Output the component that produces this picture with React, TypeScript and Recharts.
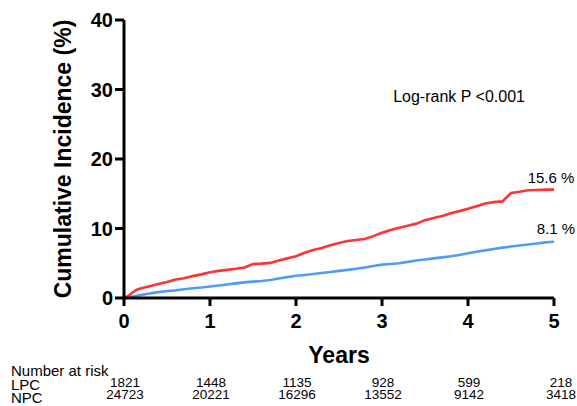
import { FC } from 'react';
import { LineChart, Line, XAxis, YAxis, Label, ReferenceDot } from 'recharts';

// years shown on the axis and the number-at-risk table
const YEARS = [0, 1, 2, 3, 4, 5];
const LPC_AT_RISK = [1821, 1448, 1135, 928, 599, 218];
const NPC_AT_RISK = [24723, 20221, 16296, 13552, 9142, 3418];

// cumulative incidence (%)
const LPC_T = [
  0, 0.05, 0.1, 0.15, 0.2, 0.3, 0.4, 0.5, 0.6, 0.7, 0.8, 0.9, 1.0, 1.1, 1.2, 1.3, 1.4, 1.5,
  1.6, 1.7, 1.8, 1.9, 2.0, 2.1, 2.2, 2.3, 2.4, 2.5, 2.6, 2.7, 2.8, 2.9, 3.0, 3.1, 3.2, 3.3,
  3.4, 3.5, 3.6, 3.7, 3.8, 3.9, 4.0, 4.1, 4.2, 4.3, 4.4, 4.45, 4.5, 4.6, 4.7, 4.8, 4.9, 5.0,
];
const LPC_PCT = [
  0, 0.3, 0.8, 1.2, 1.4, 1.7, 2.0, 2.3, 2.65, 2.85, 3.15, 3.4, 3.7, 3.9, 4.05, 4.2, 4.4, 4.9,
  4.95, 5.05, 5.4, 5.7, 6.0, 6.5, 6.9, 7.2, 7.6, 7.9, 8.2, 8.35, 8.5, 8.9, 9.4, 9.8, 10.1, 10.4,
  10.7, 11.2, 11.5, 11.8, 12.2, 12.5, 12.85, 13.2, 13.6, 13.8, 13.9, 14.5, 15.1, 15.3, 15.5, 15.55, 15.6, 15.6,
];
const NPC_T = [
  0, 0.1, 0.2, 0.3, 0.4, 0.5, 0.6, 0.7, 0.8, 0.9, 1.0, 1.1, 1.2, 1.3, 1.4, 1.5, 1.6, 1.7,
  1.8, 1.9, 2.0, 2.1, 2.2, 2.3, 2.4, 2.5, 2.6, 2.7, 2.8, 2.9, 3.0, 3.1, 3.2, 3.3, 3.4, 3.5,
  3.6, 3.7, 3.8, 3.9, 4.0, 4.1, 4.2, 4.3, 4.4, 4.5, 4.6, 4.7, 4.8, 4.9, 5.0,
];
const NPC_PCT = [
  0, 0.2, 0.45, 0.65, 0.85, 1.0, 1.1, 1.25, 1.4, 1.5, 1.65, 1.8, 1.95, 2.1, 2.25, 2.35, 2.45, 2.6,
  2.8, 3.0, 3.2, 3.3, 3.45, 3.6, 3.75, 3.9, 4.05, 4.2, 4.4, 4.6, 4.8, 4.9, 5.0, 5.2, 5.4, 5.55,
  5.7, 5.85, 6.0, 6.2, 6.45, 6.65, 6.85, 7.05, 7.25, 7.4, 7.55, 7.7, 7.85, 8.0, 8.1,
];

const FONT = '"Liberation Sans", Arial, sans-serif';
const RED = '#FF3236';
const BLUE = '#4F9CF6';
const TICK_GAP = 16; // tickSize + tickMargin of the x axis

const lpcData = LPC_T.map((t, i) => ({ t, pct: LPC_PCT[i] }));
const npcData = NPC_T.map((t, i) => ({ t, pct: NPC_PCT[i] }));

// year label plus the number-at-risk column under it
const YearTick = (props: any) => {
  const { x, y, payload } = props;
  const i = YEARS.indexOf(payload.value);
  const axisY = y - TICK_GAP;
  const dx = i === YEARS.length - 1 ? 7 : 1;
  return (
    <g fontFamily={FONT} fill="#000" textAnchor="middle">
      <text x={x} y={y} dy="0.71em" fontSize={20} fontWeight="bold">
        {payload.value}
      </text>
      <text x={x + dx} y={axisY + 89} fontSize={13.5}>{LPC_AT_RISK[i]}</text>
      <text x={x + dx} y={axisY + 101} fontSize={13.5}>{NPC_AT_RISK[i]}</text>
    </g>
  );
};

const RiskLabels = (props: any) => {
  const { viewBox } = props;
  const y = viewBox.y;
  return (
    <g fontFamily={FONT} fontSize={15} fill="#000">
      <text x={11} y={y + 78}>Number at risk</text>
      <text x={11} y={y + 92}>LPC</text>
      <text x={11} y={y + 105}>NPC</text>
    </g>
  );
};

const YTitle = (props: any) => {
  const { viewBox } = props;
  const cx = viewBox.x - 1;
  const cy = viewBox.y + viewBox.height / 2;
  return (
    <text
      x={cx}
      y={cy}
      transform={`rotate(-90 ${cx} ${cy})`}
      textAnchor="middle"
      dominantBaseline="central"
      fontFamily={FONT}
      fontSize={23}
      fontWeight="bold"
      fill="#000"
    >
      Cumulative Incidence (%)
    </text>
  );
};

const tickStyle = { fontFamily: FONT, fontSize: 20, fontWeight: 'bold', fill: '#000' };
const noteStyle = { fontFamily: FONT, fontSize: 15, fill: '#000' };

const App: FC = () => {
  return (
    <div style={{ position: 'absolute', left: 0, top: 0, background: '#fff' }}>
      <LineChart width={577} height={406} margin={{ top: 20, right: 23, bottom: 38, left: 64 }}>
        <XAxis
          dataKey="t"
          type="number"
          domain={[0, 5]}
          ticks={YEARS}
          allowDataOverflow
          height={70}
          tickSize={8}
          tickMargin={8}
          axisLine={{ stroke: '#000', strokeWidth: 3 }}
          tickLine={{ stroke: '#000', strokeWidth: 3 }}
          tick={<YearTick />}
        >
          <Label
            value="Years"
            position="insideBottom"
            offset={5}
            style={{ fontFamily: FONT, fontSize: 23, fontWeight: 'bold', fill: '#000' }}
          />
          <Label content={<RiskLabels />} />
        </XAxis>
        <YAxis
          type="number"
          domain={[0, 40]}
          ticks={[0, 10, 20, 30, 40]}
          width={60}
          tickSize={9}
          tickMargin={2}
          axisLine={{ stroke: '#000', strokeWidth: 3 }}
          tickLine={{ stroke: '#000', strokeWidth: 3 }}
          tick={tickStyle}
        >
          <Label content={<YTitle />} />
        </YAxis>
        <Line
          data={npcData}
          dataKey="pct"
          type="linear"
          stroke={BLUE}
          strokeWidth={2.6}
          dot={false}
          isAnimationActive={false}
        />
        <Line
          data={lpcData}
          dataKey="pct"
          type="linear"
          stroke={RED}
          strokeWidth={2.6}
          dot={false}
          isAnimationActive={false}
        />
        <ReferenceDot
          x={3.13}
          y={29}
          r={0}
          fill="none"
          stroke="none"
          label={{ value: 'Log-rank P <0.001', position: 'right', offset: 0, style: { ...noteStyle, fontSize: 16 } }}
        />
        <ReferenceDot
          x={5}
          y={15.6}
          r={0}
          fill="none"
          stroke="none"
          label={{ value: '15.6 %', position: 'top', offset: 7, dx: -3, style: noteStyle }}
        />
        <ReferenceDot
          x={5}
          y={8.1}
          r={0}
          fill="none"
          stroke="none"
          label={{ value: '8.1 %', position: 'top', offset: 8, dx: 2, style: noteStyle }}
        />
      </LineChart>
    </div>
  );
};

export default App;
